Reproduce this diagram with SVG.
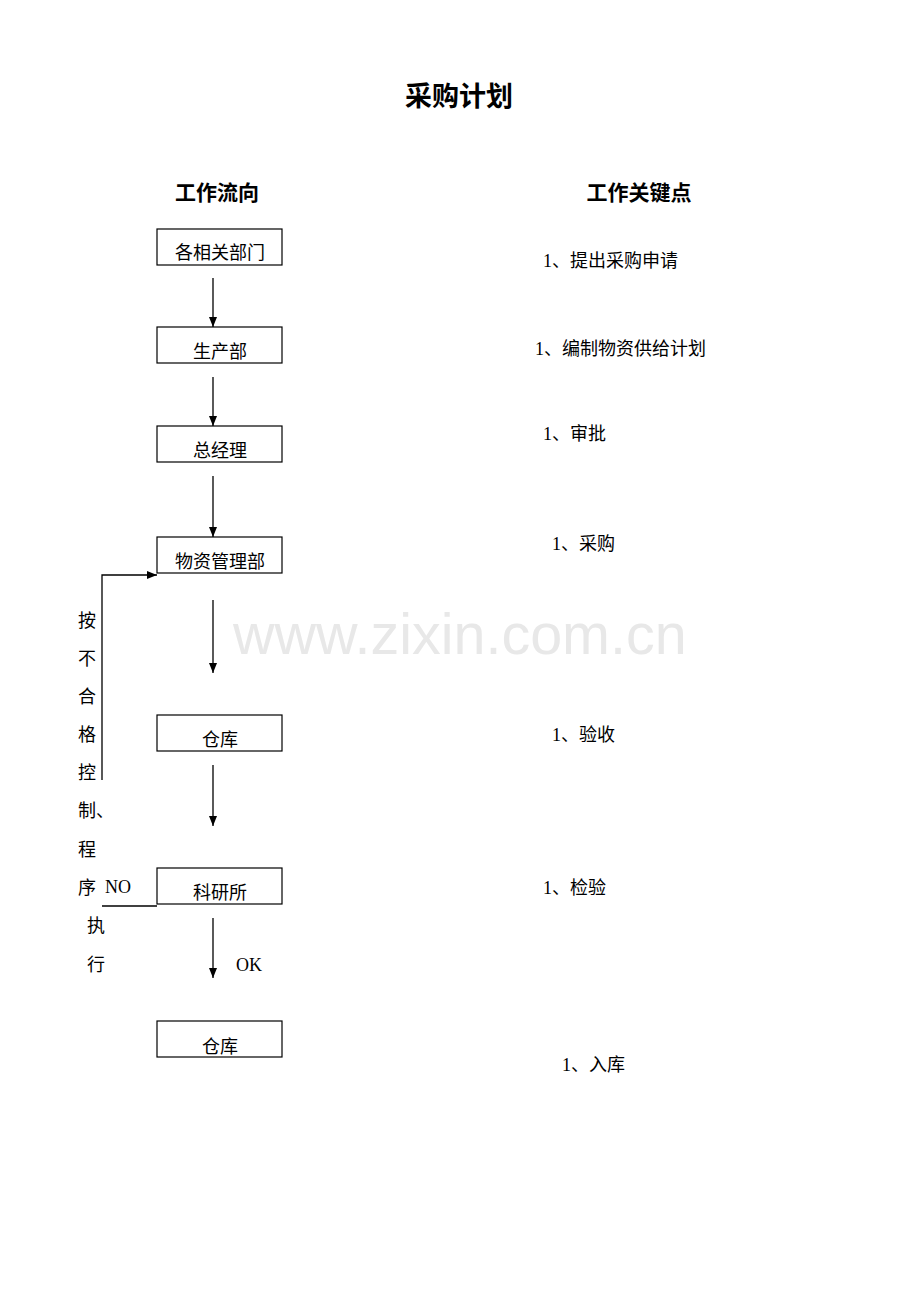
<svg xmlns="http://www.w3.org/2000/svg" width="920" height="1302" viewBox="0 0 920 1302">
<style>
.t{font-family:"Liberation Serif","Noto Sans CJK SC",serif;font-size:18px;fill:#000}
.c{text-anchor:middle}
.h{font-family:"Noto Sans CJK SC","Liberation Sans",sans-serif;font-weight:bold;fill:#000;text-anchor:middle}
.box{fill:#fff;stroke:#000;stroke-width:1.2}
.ln{fill:none;stroke:#000;stroke-width:1.3}
.wm{font-family:"Liberation Sans",Arial,sans-serif;font-size:57.5px;fill:#e8e8e8}
</style>
<defs>
<marker id="ah" markerUnits="userSpaceOnUse" markerWidth="10" markerHeight="8" refX="10" refY="4" orient="auto">
<path d="M0,0 L10,4 L0,8 z" fill="#000"/>
</marker>
</defs>
<rect width="920" height="1302" fill="#fff"/>
<text class="wm" x="233" y="654">www.zixin.com.cn</text>
<text class="h" x="459" y="106" font-size="27">采购计划</text>
<text class="h" x="217" y="200" font-size="21">工作流向</text>
<text class="h" x="639" y="200" font-size="21">工作关键点</text>

<g id="connectors">
<line class="ln" x1="213" y1="278" x2="213" y2="327" marker-end="url(#ah)"/>
<line class="ln" x1="213" y1="377" x2="213" y2="426" marker-end="url(#ah)"/>
<line class="ln" x1="213" y1="476" x2="213" y2="537" marker-end="url(#ah)"/>
<line class="ln" x1="213" y1="600" x2="213" y2="673" marker-end="url(#ah)"/>
<line class="ln" x1="213" y1="765" x2="213" y2="826" marker-end="url(#ah)"/>
<line class="ln" x1="213" y1="918" x2="213" y2="978" marker-end="url(#ah)"/>
<polyline class="ln" points="102,780 102,575 157,575" marker-end="url(#ah)"/>
<line class="ln" x1="102" y1="906" x2="157" y2="906"/>
<text class="t" x="105" y="893">NO</text>
<text class="t" x="236" y="971">OK</text>
</g>

<g id="n1"><rect class="box" x="157" y="229" width="125" height="36"/><text class="t c" x="220" y="259">各相关部门</text></g>
<g id="n2"><rect class="box" x="157" y="327" width="125" height="36"/><text class="t c" x="220" y="358">生产部</text></g>
<g id="n3"><rect class="box" x="157" y="426" width="125" height="36"/><text class="t c" x="220" y="457">总经理</text></g>
<g id="n4"><rect class="box" x="157" y="537" width="125" height="36"/><text class="t c" x="220" y="568">物资管理部</text></g>
<g id="n5"><rect class="box" x="157" y="715" width="125" height="36"/><text class="t c" x="220" y="746">仓库</text></g>
<g id="n6"><rect class="box" x="157" y="868" width="125" height="36"/><text class="t c" x="220" y="899">科研所</text></g>
<g id="n7"><rect class="box" x="157" y="1021" width="125" height="36"/><text class="t c" x="220" y="1053">仓库</text></g>

<g id="side-label">
<text class="t" x="78" y="627">按</text>
<text class="t" x="78" y="665">不</text>
<text class="t" x="78" y="703">合</text>
<text class="t" x="78" y="741">格</text>
<text class="t" x="78" y="779">控</text>
<text class="t" x="78" y="817">制、</text>
<text class="t" x="78" y="856">程</text>
<text class="t" x="78" y="894">序</text>
<text class="t" x="87" y="932">执</text>
<text class="t" x="87" y="971">行</text>
</g>

<g id="key-points">
<text class="t" x="543" y="267">1、提出采购申请</text>
<text class="t" x="535" y="355">1、编制物资供给计划</text>
<text class="t" x="543" y="440">1、审批</text>
<text class="t" x="552" y="550">1、采购</text>
<text class="t" x="552" y="741">1、验收</text>
<text class="t" x="543" y="894">1、检验</text>
<text class="t" x="562" y="1071">1、入库</text>
</g>
</svg>
